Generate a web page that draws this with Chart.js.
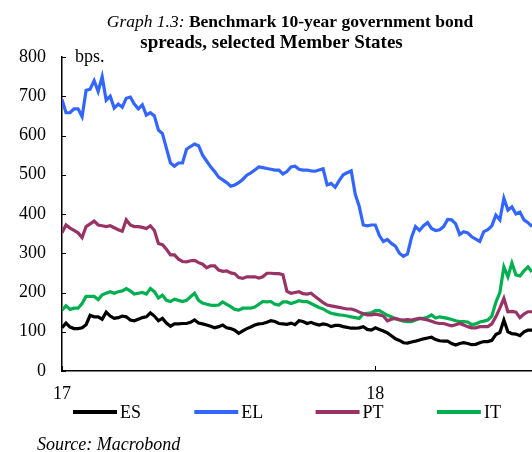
<!DOCTYPE html>
<html>
<head>
<meta charset="utf-8">
<script src="https://cdn.jsdelivr.net/npm/chart.js"></script>
<style>
  html, body { margin: 0; padding: 0; background: #fff; }
</style>
</head>
<body>
<canvas id="chart" width="532" height="452"></canvas>
<script>
const FONT = "'Liberation Serif', 'Times New Roman', serif";

// spreads in bps, one reading every ~4.7 days from the start of 2017
const es = [110,122,112,108,108,110,118,142,138,138,
  132,150,140,134,136,140,138,130,128,132,
  136,138,148,140,128,134,122,114,120,120,
  121,121,124,130,122,120,117,114,110,113,
  117,110,108,104,96,102,108,112,117,120,
  121,124,128,126,121,120,119,122,118,128,
  126,121,124,120,117,120,118,113,116,116,
  113,111,109,109,110,113,106,104,110,106,
  102,97,90,82,78,72,71,74,76,79,
  82,84,86,80,77,76,76,70,66,70,
  72,70,67,68,72,75,75,78,93,98,
  130,100,95,94,90,100,104,104];

const el = [692,658,658,668,668,648,715,718,740,712,
  750,690,700,670,680,672,695,698,680,668,
  678,652,658,650,614,605,567,530,522,530,
  530,565,572,578,574,550,535,520,508,494,
  487,480,471,474,480,488,499,505,512,520,
  518,516,514,512,512,502,508,520,522,514,
  512,512,510,509,512,515,474,478,468,485,
  500,505,510,450,419,372,370,372,372,345,
  330,335,325,318,300,292,298,340,368,358,
  370,378,363,358,360,368,386,385,375,348,
  355,352,342,336,330,355,360,370,397,385,
  440,410,418,400,405,385,378,368];

const pt = [352,372,364,358,352,340,368,375,382,372,
  370,368,370,365,360,356,385,372,368,368,
  366,363,370,358,325,322,310,296,296,285,
  279,278,281,282,276,272,263,268,268,257,
  254,255,250,248,238,236,240,240,240,237,
  240,249,249,248,248,245,203,198,200,202,
  197,196,198,190,182,174,168,166,164,162,
  160,158,158,155,150,146,143,143,145,143,
  140,128,132,134,131,130,131,130,132,134,
  132,130,127,123,121,121,118,115,118,121,
  117,113,110,110,113,113,113,120,138,160,
  185,151,152,150,136,145,151,151];

const it = [155,166,157,160,160,172,190,190,190,182,
  194,198,202,198,202,204,210,204,196,198,
  200,196,210,202,186,193,180,177,183,180,
  177,180,189,198,180,173,170,168,167,168,
  176,170,164,157,155,160,160,160,163,170,
  177,176,177,170,168,176,176,172,175,179,
  177,177,172,167,162,158,152,147,145,143,
  142,140,138,136,134,146,147,148,154,154,
  148,142,138,133,130,127,126,126,130,134,
  134,137,143,135,138,136,134,131,128,126,
  126,125,118,120,125,127,130,140,175,200,
  265,240,275,245,242,255,265,252];

const names = ["ES", "EL", "PT", "IT"];
const colors = ["#000000", "#3366ff", "#993366", "#00b050"];
const yTicks = [0, 100, 200, 300, 400, 500, 600, 700, 800];
const xTicks = [17, 18];
const X_START = 17, X_STEP = 1 / 78;

const toPoints = vals => vals.map((v, i) => ({ x: X_START + i * X_STEP, y: v }));

const extras = {
  id: "extras",
  afterDraw(chart) {
    const ctx = chart.ctx;
    const xs = chart.scales.x, ys = chart.scales.y;
    const area = chart.chartArea;
    ctx.save();
    // small ticks on the inside of the axes
    ctx.strokeStyle = "#000";
    ctx.lineWidth = 1;
    yTicks.forEach(v => {
      const y = Math.round(ys.getPixelForValue(v)) + 0.5;
      ctx.beginPath(); ctx.moveTo(area.left, y); ctx.lineTo(area.left + 4, y); ctx.stroke();
    });
    xTicks.forEach(v => {
      const x = Math.round(xs.getPixelForValue(v)) + 0.5;
      ctx.beginPath(); ctx.moveTo(x, area.bottom); ctx.lineTo(x, area.bottom - 5); ctx.stroke();
    });

    ctx.fillStyle = "#000";
    ctx.textBaseline = "alphabetic";
    ctx.textAlign = "left";
    // title
    const italic = "italic 17.5px " + FONT, bold = "bold 17.5px " + FONT;
    const a = "Graph 1.3: ", b = "Benchmark 10-year government bond";
    ctx.font = italic; const wa = ctx.measureText(a).width;
    ctx.font = bold; const wb = ctx.measureText(b).width;
    const x0 = 290 - (wa + wb) / 2;
    ctx.font = italic; ctx.fillText(a, x0, 27);
    ctx.font = bold; ctx.fillText(b, x0 + wa, 27);
    ctx.font = "bold 19px " + FONT;
    ctx.textAlign = "center";
    ctx.fillText("spreads, selected Member States", 271.5, 48);

    // unit label
    ctx.textAlign = "left";
    ctx.font = "18px " + FONT;
    ctx.fillText("bps.", 75, 62);

    // legend
    ctx.textBaseline = "middle";
    chart.data.datasets.forEach((ds, i) => {
      const lx = 73 + i * 121.3, ly = 412;
      ctx.strokeStyle = ds.borderColor;
      ctx.lineWidth = 4;
      ctx.beginPath(); ctx.moveTo(lx, ly); ctx.lineTo(lx + 44, ly); ctx.stroke();
      ctx.fillText(ds.label, lx + 47, ly + 1);
    });

    // source
    ctx.textBaseline = "alphabetic";
    ctx.font = "italic 18px " + FONT;
    ctx.fillText("Source: Macrobond", 37, 450);
    ctx.restore();
  }
};

const series = [es, el, pt, it];

new Chart(document.getElementById("chart"), {
  type: "line",
  data: {
    datasets: series.map((vals, i) => ({
      label: names[i],
      data: toPoints(vals),
      borderColor: colors[i],
      borderWidth: 3.2,
      pointRadius: 0,
      tension: 0,
      fill: false
    }))
  },
  options: {
    responsive: false,
    animation: false,
    devicePixelRatio: 1,
    layout: { padding: { top: 57, left: 0, right: 0, bottom: 0 } },
    plugins: {
      legend: { display: false },
      tooltip: { enabled: false },
      title: { display: false }
    },
    scales: {
      x: {
        type: "linear",
        min: 17,
        max: 18.5,
        afterBuildTicks: s => { s.ticks = xTicks.map(v => ({ value: v })); },
        afterFit: s => { s.height = 81; },
        grid: { drawOnChartArea: false, drawTicks: false },
        border: { color: "#000", width: 1.5 },
        ticks: {
          padding: 12, color: "#000", autoSkip: false, maxRotation: 0,
          font: { family: FONT, size: 18 },
          callback: v => String(v)
        }
      },
      y: {
        min: 0,
        max: 800,
        afterBuildTicks: s => { s.ticks = yTicks.map(v => ({ value: v })); },
        afterFit: s => { s.width = 62; },
        grid: { drawOnChartArea: false, drawTicks: false },
        border: { color: "#000", width: 1.5 },
        ticks: {
          padding: 16, color: "#000",
          font: { family: FONT, size: 18 }
        }
      }
    }
  },
  plugins: [extras]
});
</script>
</body>
</html>
